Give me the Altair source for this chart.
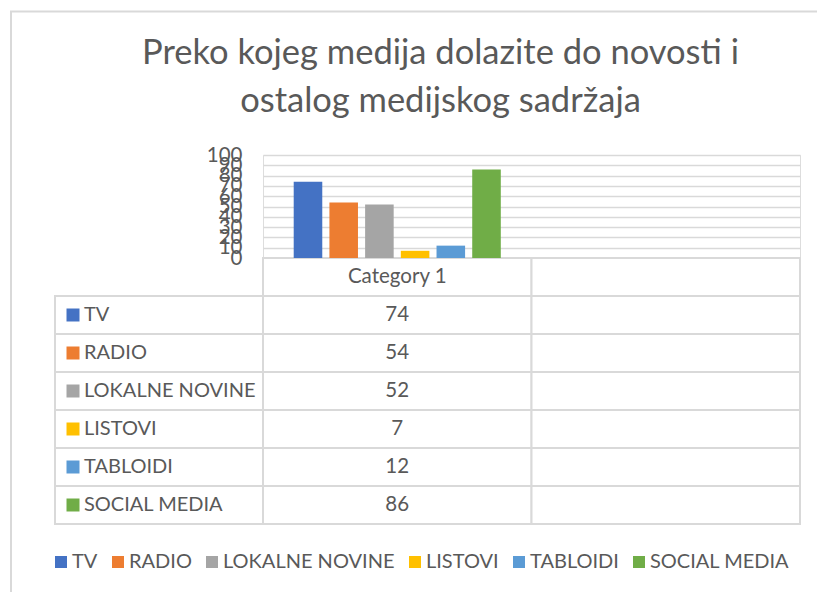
import altair as alt
import pandas as pd

# ---------------- data ----------------
title_lines = ["Preko kojeg medija dolazite do novosti i", "ostalog medijskog sadržaja"]
series = ["TV", "RADIO", "LOKALNE NOVINE", "LISTOVI", "TABLOIDI", "SOCIAL MEDIA"]
values = [74, 54, 52, 7, 12, 86]
colors = ["#4472C4", "#ED7D31", "#A5A5A5", "#FFC000", "#5B9BD5", "#70AD47"]
categories = ["Category 1", ""]
y_ticks = list(range(0, 101, 10))

# ---------------- style / layout ----------------
FONT = "Lato"
TEXT = "#595959"
LINE = "#D9D9D9"
W, H = 537, 103
ROW_RANGE = [103, 369]
rows = ["header"] + series

bars_df = pd.DataFrame({"category": categories[0], "series": series, "value": values})
cells_df = pd.DataFrame([{"row": r, "category": c} for r in rows for c in categories])
labels_df = pd.DataFrame({"row": series, "series": series})
values_df = pd.DataFrame({"row": series, "category": categories[0],
                          "label": [str(v) for v in values]})
header_df = pd.DataFrame({"row": ["header"] * len(categories), "category": categories})
frame_df = pd.DataFrame({"k": [0]})

x_scale = alt.Scale(domain=categories, paddingInner=0, paddingOuter=0)
color_scale = alt.Scale(domain=series, range=colors)
row_scale = alt.Scale(domain=rows, range=ROW_RANGE, paddingInner=0, paddingOuter=0)

legend = alt.Legend(title=None, orient="none", direction="horizontal",
                    columns=6, legendX=-212, legendY=397,
                    symbolType="square", symbolSize=144,
                    symbolStrokeWidth=0, labelFont=FONT,
                    labelFontSize=20, labelColor=TEXT, labelOffset=1,
                    labelLimit=400, columnPadding=10, padding=0)

bars = alt.Chart(bars_df).mark_bar().encode(
    x=alt.X("category:N", scale=x_scale, axis=None),
    xOffset=alt.XOffset("series:N", sort=series,
                        scale=alt.Scale(domain=series, paddingInner=0.2, paddingOuter=0.86)),
    y=alt.Y("value:Q", scale=alt.Scale(domain=[0, 100], nice=False),
            axis=alt.Axis(values=y_ticks, title=None, grid=True, gridColor=LINE,
                          gridWidth=1.5, domain=False, ticks=False, labelPadding=21,
                          labelFont=FONT, labelFontSize=20.5, labelColor=TEXT,
                          labelOverlap=False)),
    color=alt.Color("series:N", scale=color_scale, legend=legend),
)

enc_row = alt.Y("row:N", scale=row_scale, axis=None)

cells = alt.Chart(cells_df).mark_rect(fill="white", stroke=LINE, strokeWidth=2).encode(
    x=alt.X("category:N", scale=x_scale, axis=None), y=enc_row)
label_cells = alt.Chart(labels_df).mark_rect(fill="white", stroke=LINE, strokeWidth=2).encode(
    x=alt.value(-208), x2=alt.value(0), y=enc_row)
symbols = alt.Chart(labels_df).mark_square(size=169, opacity=1).encode(
    x=alt.value(-190), y=enc_row,
    color=alt.Color("series:N", scale=color_scale, legend=legend))
label_text = alt.Chart(labels_df).mark_text(align="left", baseline="middle", font=FONT,
                                            fontSize=20, color=TEXT).encode(
    x=alt.value(-179), y=enc_row, text="series:N")
value_text = alt.Chart(values_df).mark_text(align="center", baseline="middle", font=FONT,
                                            fontSize=20.5, color=TEXT).encode(
    x=alt.X("category:N", scale=x_scale, axis=None), y=enc_row, text="label:N")
header_text = alt.Chart(header_df).mark_text(align="center", baseline="middle", font=FONT,
                                             fontSize=20.5, color=TEXT).encode(
    x=alt.X("category:N", scale=x_scale, axis=None), y=enc_row, text="category:N")

frame_top = alt.Chart(frame_df).mark_rule(color=LINE, strokeWidth=2).encode(
    x=alt.value(-253), x2=alt.value(560), y=alt.value(-143.5))
frame_left = alt.Chart(frame_df).mark_rule(color=LINE, strokeWidth=2).encode(
    x=alt.value(-252), y=alt.value(-144), y2=alt.value(440))

table = alt.layer(cells, label_cells, symbols, label_text, value_text, header_text)

chart = alt.layer(frame_top, frame_left, table, bars).resolve_scale(
    y="independent"
).properties(
    width=W, height=H,
    padding={"left": 263, "top": 155, "right": 17, "bottom": 334},
    autosize=alt.AutoSizeParams(type="none"),
    title=alt.TitleParams(text=title_lines, anchor="middle", frame="group", dx=-91,
                          dy=109, offset=0, font=FONT, fontSize=34.5, fontWeight="normal",
                          color=TEXT, lineHeight=48),
).configure_view(stroke=None).configure(background="white")

chart.save("out.html", embed_options={"renderer": "svg", "actions": False})
